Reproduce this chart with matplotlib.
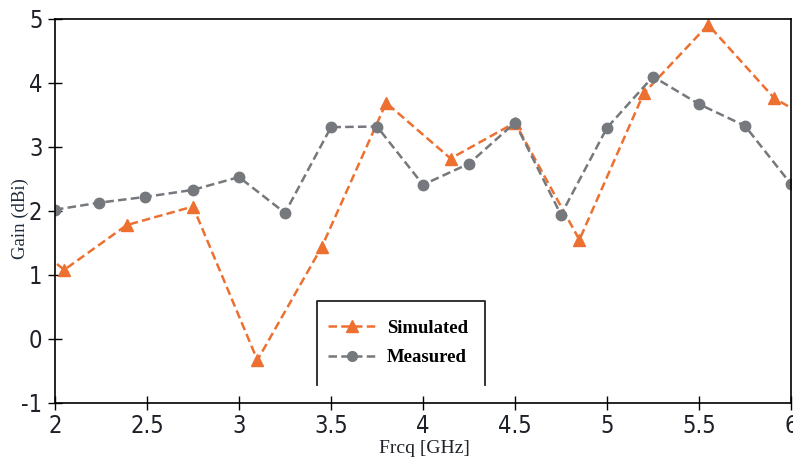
import matplotlib
matplotlib.use("Agg")
import matplotlib.pyplot as plt
from matplotlib.lines import Line2D
from matplotlib import font_manager

# Frequency sweep points (GHz) and gain (dBi)
freq_sim = [1.85, 2.05, 2.39, 2.75, 3.10, 3.45, 3.80, 4.15, 4.50, 4.85, 5.20, 5.55, 5.91, 6.25]
gain_sim = [1.55, 1.08, 1.78, 2.07, -0.33, 1.44, 3.69, 2.82, 3.38, 1.55, 3.84, 4.91, 3.76, 3.20]

freq_meas = [2.00, 2.24, 2.49, 2.75, 3.00, 3.25, 3.50, 3.75, 4.00, 4.25, 4.50, 4.75, 5.00, 5.25, 5.50, 5.75, 6.00]
gain_meas = [2.02, 2.13, 2.22, 2.33, 2.53, 1.97, 3.31, 3.32, 2.41, 2.74, 3.38, 1.94, 3.30, 4.10, 3.67, 3.33, 2.42]

x_ticks = [2, 2.5, 3, 3.5, 4, 4.5, 5, 5.5, 6]
x_tick_labels = ["2", "2.5", "3", "3.5", "4", "4.5", "5", "5.5", "6"]
y_ticks = [-1, 0, 1, 2, 3, 4, 5]
y_tick_labels = ["-1", "0", "1", "2", "3", "4", "5"]

series_labels = ["Simulated", "Measured"]
orange = "#ED7031"
grey = "#75787C"

# Prefer a condensed sans for tick numbers when one is installed
tick_prop = None
for f in font_manager.fontManager.ttflist:
    name = f.fname.lower()
    if ("condensed" in name or "narrow" in name) and "sans" in name and "bold" not in name \
            and "oblique" not in name and "italic" not in name:
        tick_prop = font_manager.FontProperties(fname=f.fname, size=17)
        break
if tick_prop is None:
    tick_prop = font_manager.FontProperties(family="Liberation Sans", size=14.5)

fig = plt.figure(figsize=(7.93, 4.66), dpi=100)
ax = fig.add_axes([55 / 793, 63 / 466, (791 - 55) / 793, (403 - 19) / 466])

dash = (0, (3.4, 1.7))
ax.plot(freq_sim, gain_sim, linestyle=dash, color=orange, linewidth=1.8,
        marker="^", markersize=8.5, markerfacecolor=orange, markeredgecolor=orange)
ax.plot(freq_meas, gain_meas, linestyle=dash, color=grey, linewidth=1.8,
        marker="o", markersize=7.5, markerfacecolor=grey, markeredgecolor=grey)

ax.set_xlim(2, 6)
ax.set_ylim(-1, 5)
ax.set_xticks(x_ticks)
ax.set_xticklabels(x_tick_labels)
ax.set_yticks(y_ticks)
ax.set_yticklabels(y_tick_labels)
ax.tick_params(direction="inout", length=10, width=1.0, color="black", labelcolor="#1e2228")
for lab in ax.get_xticklabels() + ax.get_yticklabels():
    lab.set_fontproperties(tick_prop)
ax.tick_params(axis="x", pad=3)
ax.tick_params(axis="y", pad=4)

for s in ax.spines.values():
    s.set_linewidth(1.2)
    s.set_color("black")

ax.set_xlabel("Frcq [GHz]", family="Liberation Serif", fontsize=14, color="#1e2228")
ax.xaxis.set_label_coords((424 - 55) / 736, -(440 - 403) / 384)
ax.set_ylabel("Gain (dBi)", family="Liberation Serif", fontsize=13.5, color="#1f2b3a")
ax.yaxis.set_label_coords(-(55 - 29) / 736, (403 - 219) / 384)

# Legend: box open along its lower edge
handles = [
    Line2D([], [], linestyle=dash, color=orange, linewidth=1.8, marker="^",
           markersize=9, markerfacecolor=orange, markeredgecolor=orange),
    Line2D([], [], linestyle=dash, color=grey, linewidth=1.8, marker="o",
           markersize=7, markerfacecolor=grey, markeredgecolor=grey),
]
leg = ax.legend(handles, series_labels, loc="upper left",
                bbox_to_anchor=((311 - 55) / 736, (403 - 303) / 384),
                frameon=False, handlelength=2.6, handletextpad=0.55, labelspacing=0.65,
                prop={"family": "Liberation Serif", "weight": "bold", "size": 13.5})
frame_x = [(317 - 55) / 736, (317 - 55) / 736, (485 - 55) / 736, (485 - 55) / 736]
frame_y = [(403 - 385) / 384, (403 - 301) / 384, (403 - 301) / 384, (403 - 385) / 384]
ax.plot(frame_x, frame_y, transform=ax.transAxes, color="#222222", linewidth=1.3, clip_on=False)

fig.savefig("out.png", dpi=100)
